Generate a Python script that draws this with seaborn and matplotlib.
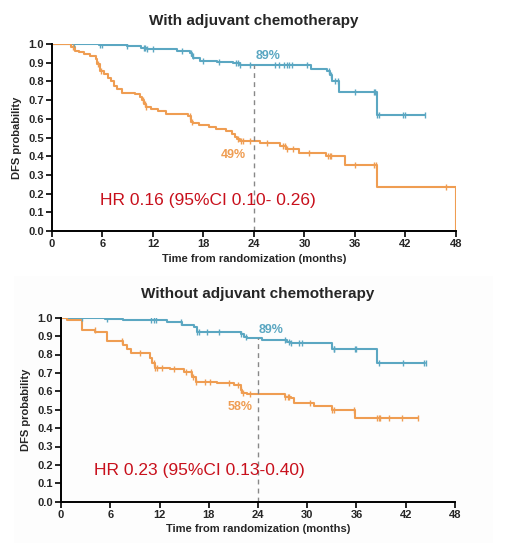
import matplotlib
matplotlib.use("Agg")
import matplotlib.pyplot as plt
import numpy as np
import pandas as pd
import seaborn as sns

# ---- data ----
# With adjuvant chemotherapy
with_blue_t = [0, 5.6, 8.9, 10.6, 11.3, 14.8, 16.4, 16.6, 16.8, 17.6, 19.6, 21.5, 22.3, 30.8, 32.7, 33.0, 33.3, 34.1, 38.6, 44.3]
with_blue_s = [1.0, 0.995, 0.99, 0.98, 0.975, 0.965, 0.95, 0.935, 0.925, 0.91, 0.905, 0.897, 0.888, 0.866, 0.855, 0.835, 0.80, 0.745, 0.62, 0.62]
with_blue_cens = [2.6, 5.7, 5.9, 8.9, 10.9, 11.1, 11.3, 12.0, 15.5, 16.5, 16.7, 18.0, 19.8, 21.9, 22.1, 22.3, 23.5,
                  26.5, 27.0, 27.6, 27.9, 28.2, 28.5, 30.3, 32.9, 33.1, 33.6, 34.0, 36.0, 38.2, 38.4, 38.6, 38.8,
                  41.7, 41.9, 44.3]
with_orange_t = [0, 2.3, 2.7, 3.2, 3.8, 4.5, 5.2, 5.4, 5.7, 6.2, 6.6, 7.0, 7.4, 7.7, 8.3, 9.9, 10.4, 10.7, 10.9,
                 11.2, 11.8, 12.6, 13.5, 16.2, 16.5, 16.8, 17.5, 18.6, 19.5, 20.7, 21.4, 21.7, 22.0, 22.3, 24.7,
                 27.1, 27.8, 29.3, 32.6, 34.8, 38.6, 48.0]
with_orange_s = [1.0, 0.985, 0.965, 0.955, 0.945, 0.935, 0.92, 0.895, 0.855, 0.84, 0.82, 0.80, 0.775, 0.76, 0.74,
                 0.73, 0.715, 0.70, 0.68, 0.665, 0.655, 0.64, 0.625, 0.615, 0.585, 0.575, 0.565, 0.555, 0.545,
                 0.535, 0.52, 0.505, 0.49, 0.483, 0.468, 0.452, 0.437, 0.417, 0.40, 0.355, 0.237, 0.0]
with_orange_cens = [2.5, 5.5, 5.8, 10.8, 11.0, 11.2, 16.4, 16.6, 22.1, 22.4, 22.7, 23.5, 25.5, 27.5, 27.7, 27.9,
                    28.6, 30.5, 32.8, 33.0, 33.2, 36.0, 38.3, 38.5, 46.8]

# Without adjuvant chemotherapy
wo_blue_t = [0, 5.4, 7.6, 12.9, 14.8, 16.2, 16.6, 21.9, 22.3, 22.7, 24.5, 27.5, 28.0, 33.0, 38.5, 44.4]
wo_blue_s = [1.0, 0.995, 0.99, 0.975, 0.96, 0.947, 0.922, 0.912, 0.897, 0.891, 0.879, 0.87, 0.86, 0.832, 0.755, 0.755]
wo_blue_cens = [2.6, 5.6, 11.0, 11.3, 11.6, 14.6, 16.6, 16.8, 17.8, 19.3, 21.9, 22.5, 27.3, 27.8, 28.0, 29.0, 29.4,
                33.2, 33.3, 35.8, 36.0, 38.7, 41.7, 44.2, 44.5]
wo_orange_t = [0, 0.7, 2.6, 4.2, 5.6, 7.6, 8.0, 8.5, 10.9, 11.1, 11.5, 13.3, 15.0, 16.0, 16.4, 19.0, 21.1, 21.9,
               22.1, 22.7, 27.3, 28.0, 28.4, 30.8, 33.0, 35.8, 43.5]
wo_orange_s = [1.0, 0.987, 0.933, 0.924, 0.873, 0.851, 0.83, 0.806, 0.779, 0.752, 0.728, 0.721, 0.707, 0.68, 0.652,
               0.643, 0.634, 0.607, 0.589, 0.583, 0.571, 0.562, 0.534, 0.52, 0.498, 0.457, 0.457]
wo_orange_cens = [4.1, 7.4, 9.6, 11.3, 11.5, 11.7, 12.3, 13.8, 15.2, 15.8, 16.1, 16.4, 17.5, 18.2, 20.5, 21.6,
                  21.9, 22.2, 23.0, 27.3, 27.6, 27.8, 30.3, 33.0, 33.2, 35.7, 38.5, 38.7, 38.9, 40.0, 41.5, 43.5]

titles = ["With adjuvant chemotherapy", "Without adjuvant chemotherapy"]
hr_texts = ["HR 0.16 (95%CI 0.10- 0.26)", "HR 0.23 (95%CI 0.13-0.40)"]
blue_pct = ["89%", "89%"]
orange_pct = ["49%", "58%"]
x_ticks = [0, 6, 12, 18, 24, 30, 36, 42, 48]
y_ticks = [0.0, 0.1, 0.2, 0.3, 0.4, 0.5, 0.6, 0.7, 0.8, 0.9, 1.0]

BLUE = "#5ba7c2"
ORANGE = "#ef9d52"
RED = "#c8101c"

sns.set_style("ticks")
plt.rcParams["font.family"] = ["Liberation Sans Narrow", "Liberation Sans", "DejaVu Sans"]
SANS = ["Liberation Sans", "DejaVu Sans"]


def step_value(t, s, x):
    idx = np.searchsorted(t, x, side="right") - 1
    return np.asarray(s)[idx]


def draw_panel(ax, blue, orange, title, hr, bpct, opct, hr_pos, bpos, opos):
    for (t, s, cens), col in [(blue, BLUE), (orange, ORANGE)]:
        df = pd.DataFrame({"time": t, "surv": s})
        sns.lineplot(data=df, x="time", y="surv", drawstyle="steps-post", color=col,
                     linewidth=1.5, ax=ax, estimator=None)
        cdf = pd.DataFrame({"time": cens, "surv": step_value(t, s, cens)})
        sns.scatterplot(data=cdf, x="time", y="surv", marker="|", s=14, linewidth=1.0,
                        color=col, ax=ax, zorder=3)
    # dashed line at 24 months up to the upper curve
    ax.plot([24, 24], [0, step_value(blue[0], blue[1], 24)], ls=(0, (3.5, 3)), color="#888888", lw=1.0)
    ax.text(*bpos, bpct, color=BLUE, fontsize=9, fontweight="bold", family=SANS)
    ax.text(*opos, opct, color=ORANGE, fontsize=9, fontweight="bold", family=SANS)
    ax.text(*hr_pos, hr, color=RED, fontsize=12.5, va="center", family=SANS)

    ax.set_xlim(0, 48)
    ax.set_ylim(0, 1.0)
    ax.set_xticks(x_ticks)
    ax.set_yticks(y_ticks)
    ax.set_xticklabels([str(v) for v in x_ticks], fontweight="bold", fontsize=8)
    ax.set_yticklabels([f"{v:.1f}" for v in y_ticks], fontweight="bold", fontsize=8)
    ax.set_xlabel("Time from randomization (months)", fontweight="bold", fontsize=8, labelpad=3)
    ax.set_ylabel("DFS probability", fontweight="bold", fontsize=8, labelpad=4)
    ax.set_title(title, fontweight="bold", fontsize=11, pad=14, family=SANS)
    ax.tick_params(length=4, width=1.2, color="black", pad=2)
    for side in ["left", "bottom"]:
        ax.spines[side].set_linewidth(1.4)
        ax.spines[side].set_color("black")
    sns.despine(ax=ax)
    ax.patch.set_alpha(0)


fig = plt.figure(figsize=(5.09, 5.43), dpi=100)
fig.patches.append(plt.Rectangle((14 / 509, 0.0), 1 - 30 / 509, 1 - 276 / 543, transform=fig.transFigure,
                                 facecolor="#fdfdfd", edgecolor="none", zorder=-5))

ax1 = fig.add_axes([52 / 509, 1 - 231 / 543, 404 / 509, 187 / 543])
draw_panel(ax1, (with_blue_t, with_blue_s, with_blue_cens),
           (with_orange_t, with_orange_s, with_orange_cens),
           titles[0], hr_texts[0], blue_pct[0], orange_pct[0],
           (5.7, 0.165), (24.2, 0.92), (20.0, 0.39))

ax2 = fig.add_axes([61 / 509, 1 - 501.7 / 543, 394 / 509, 184 / 543])
draw_panel(ax2, (wo_blue_t, wo_blue_s, wo_blue_cens),
           (wo_orange_t, wo_orange_s, wo_orange_cens),
           titles[1], hr_texts[1], blue_pct[1], orange_pct[1],
           (4.0, 0.167), (24.1, 0.915), (20.3, 0.50))

fig.savefig("out.png", dpi=100)
